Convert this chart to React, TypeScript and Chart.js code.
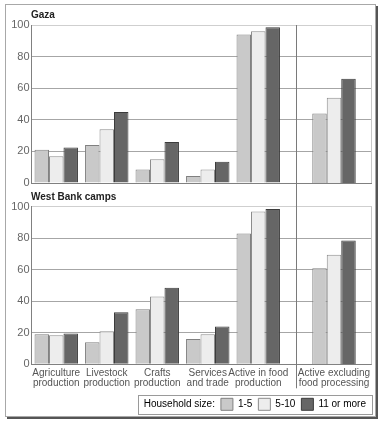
import React, { useEffect, useRef } from 'react';
import { Chart, registerables } from 'chart.js';

Chart.register(...registerables);

const FONT = "'Liberation Sans', Arial, Helvetica, sans-serif";
Chart.defaults.font.family = FONT;

// ---- data ----
const categories: string[][] = [
  ['Agriculture', 'production'],
  ['Livestock', 'production'],
  ['Crafts', 'production'],
  ['Services', 'and trade'],
  ['Active in food', 'production'],
  ['Active excluding', 'food processing'],
];
const seriesNames = ['1-5', '5-10', '11 or more'];
const legendTitle = 'Household size:';
const yTicks = [0, 20, 40, 60, 80, 100];
const panelTitles = ['Gaza', 'West Bank camps'];

const gaza1to5 = [21, 24, 8.5, 4.5, 94, 44];
const gaza5to10 = [17, 34, 15, 8.5, 96, 54];
const gaza11plus = [22.5, 45, 26, 13.5, 98.5, 66];

const westBank1to5 = [19, 14, 35, 16, 83, 61];
const westBank5to10 = [18.5, 21, 43, 19, 97, 69.5];
const westBank11plus = [19.5, 33, 48.5, 24, 98.5, 78.5];

// number of categories in the main section (the rest sit right of the divider)
const SPLIT = 5;

// ---- layout / styles ----
const W = 384;
const W_MAIN = 252.5;
const W_GAP = 12.5;
const W_SIDE = 76;
const FILLS = ['#c9c9c9', '#ededed', '#666666'];
const EDGES = ['#808080', '#8c8c8c', '#3c3c3c'];
const LEGEND_BOX = 12;
const LEGEND_FONT = 10;

const framePlugin = {
  id: 'frame',
  afterDraw(chart: any, _args: any, opts: any) {
    const { ctx, chartArea } = chart;
    const xr = chart.scales.xr;
    ctx.save();
    ctx.lineWidth = 1;
    // right edge of plot
    ctx.strokeStyle = '#c8c8c8';
    const rx = Math.floor(chartArea.right) - 0.5;
    ctx.beginPath();
    ctx.moveTo(rx, chartArea.top);
    ctx.lineTo(rx, chartArea.bottom);
    ctx.stroke();
    // section divider
    const sx = Math.round(xr.left) + 0.5;
    const y0 = opts.fromTop ? 0 : chartArea.top;
    const y1 = opts.toLabels ? xr.bottom - 4 : chart.height;
    ctx.strokeStyle = '#7a7a7a';
    ctx.beginPath();
    ctx.moveTo(sx, y0);
    ctx.lineTo(sx, y1);
    ctx.stroke();
    // legend frame
    const legend = chart.legend;
    if (opts.legendFrame && legend && legend.legendHitBoxes && legend.legendHitBoxes.length) {
      const hb = legend.legendHitBoxes;
      const first = hb[0];
      const last = hb[hb.length - 1];
      const left = first.left + LEGEND_BOX + LEGEND_FONT / 2 - 6;
      const right = last.left + last.width + 6;
      const top = first.top - 3.5;
      const bottom = first.top + first.height + 3.5;
      ctx.strokeStyle = '#9a9a9a';
      ctx.strokeRect(Math.round(left) + 0.5, Math.round(top) + 0.5, Math.round(right - left), Math.round(bottom - top));
    }
    ctx.restore();
  },
};

function barDatasets(values: number[][], part: 'main' | 'side') {
  return values.map((vals, s) => ({
    label: seriesNames[s],
    data: part === 'main' ? vals.slice(0, SPLIT) : vals.slice(SPLIT),
    backgroundColor: FILLS[s],
    borderColor: EDGES[s],
    borderWidth: 1,
    barPercentage: 1,
    categoryPercentage: part === 'main' ? 0.86 : 0.572,
  }));
}

function mainConfig(title: string, values: number[][], bottom: boolean) {
  const xAxis = (labels: any[], weight: number, showTicks: boolean) => ({
    type: 'category',
    position: 'bottom',
    stack: 'sections',
    stackWeight: weight,
    labels,
    offset: true,
    grid: { display: false, drawTicks: false },
    border: { display: false },
    ticks: {
      display: showTicks,
      autoSkip: false,
      maxRotation: 0,
      minRotation: 0,
      padding: 3.7,
      color: '#555',
      font: { family: FONT, size: 10, lineHeight: 1.0 },
    },
    afterFit: (s: any) => {
      s.paddingLeft = 0;
      s.paddingRight = 0;
      s.height = bottom ? 28 : 0;
    },
  });

  return {
    type: 'bar',
    data: { datasets: barDatasets(values, 'main') },
    plugins: [framePlugin],
    options: {
      animation: false,
      responsive: false,
      maintainAspectRatio: false,
      events: [],
      layout: { padding: { left: 0, right: 12, top: 0, bottom: bottom ? 5.7 : 7 } },
      scales: {
        x: xAxis(categories.slice(0, SPLIT), W_MAIN, bottom),
        xs: xAxis([''], W_GAP, false),
        xr: xAxis(categories.slice(SPLIT), W_SIDE, bottom),
        y: {
          type: 'linear',
          min: 0,
          max: 100,
          afterBuildTicks: (s: any) => {
            s.ticks = yTicks.map((v) => ({ value: v }));
          },
          afterFit: (s: any) => {
            s.width = 31;
            s.paddingTop = 0;
            s.paddingBottom = 0;
          },
          ticks: { color: '#666', padding: 1.5, font: { family: FONT, size: 11 } },
          grid: {
            drawTicks: false,
            lineWidth: 1,
            color: (c: any) =>
              c.tick && c.tick.value === 0 ? '#808080' : c.tick && c.tick.value === 100 ? '#cfcfcf' : '#a6a6a6',
          },
          border: { display: true, color: '#808080', width: 1 },
        },
      },
      plugins: {
        frame: { fromTop: bottom, toLabels: bottom, legendFrame: bottom },
        tooltip: { enabled: false },
        title: {
          display: true,
          fullSize: false,
          text: title,
          align: 'start',
          color: '#222',
          font: { family: FONT, size: 10, weight: 'bold', lineHeight: 1.2 },
          padding: bottom ? { top: 1, bottom: 3.7 } : { top: 9.5, bottom: 3.5 },
        },
        legend: {
          display: bottom,
          position: 'bottom',
          align: 'end',
          onClick: () => {},
          labels: {
            boxWidth: LEGEND_BOX,
            boxHeight: LEGEND_BOX,
            padding: 6,
            color: '#444',
            font: { family: FONT, size: LEGEND_FONT },
            generateLabels: () => [
              {
                text: legendTitle,
                fillStyle: 'rgba(0,0,0,0)',
                strokeStyle: 'rgba(0,0,0,0)',
                lineWidth: 0,
                hidden: false,
                datasetIndex: -1,
              },
              ...seriesNames.map((n, i) => ({
                text: n,
                fillStyle: FILLS[i],
                strokeStyle: EDGES[i],
                lineWidth: 1,
                hidden: false,
                datasetIndex: i,
              })),
            ],
          },
        },
      },
    },
  };
}

function sideConfig(values: number[][], padding: { left: number; right: number; top: number; bottom: number }) {
  return {
    type: 'bar',
    data: { datasets: barDatasets(values, 'side') },
    options: {
      animation: false,
      responsive: false,
      maintainAspectRatio: false,
      events: [],
      layout: { padding },
      scales: {
        x: {
          type: 'category',
          labels: categories.slice(SPLIT),
          offset: true,
          grid: { display: false, drawTicks: false },
          border: { display: false },
          ticks: { display: false },
          afterFit: (s: any) => {
            s.height = 0;
            s.paddingLeft = 0;
            s.paddingRight = 0;
          },
        },
        y: { type: 'linear', display: false, min: 0, max: 100 },
      },
      plugins: {
        legend: { display: false },
        title: { display: false },
        tooltip: { enabled: false },
      },
    },
  };
}

function Panel({ title, values, bottom, top, height }: { title: string; values: number[][]; bottom: boolean; top: number; height: number }) {
  const mainRef = useRef<HTMLCanvasElement>(null);
  const sideRef = useRef<HTMLCanvasElement>(null);
  useEffect(() => {
    const main: any = new Chart(mainRef.current as HTMLCanvasElement, mainConfig(title, values, bottom) as any);
    const ca = main.chartArea;
    const xr = main.scales.xr;
    const side = new Chart(
      sideRef.current as HTMLCanvasElement,
      sideConfig(values, { left: xr.left, right: W - xr.right, top: ca.top, bottom: height - ca.bottom }) as any
    );
    return () => {
      side.destroy();
      main.destroy();
    };
  }, []);
  const style: any = { position: 'absolute', left: 0, top, width: W, height };
  return (
    <>
      <canvas ref={mainRef} width={W} height={height} style={style} />
      <canvas ref={sideRef} width={W} height={height} style={style} />
    </>
  );
}

export default function App() {
  return (
    <div style={{ position: 'absolute', left: 0, top: 0, width: W, height: 426, background: '#fff' }}>
      <div
        style={{
          position: 'absolute',
          left: 5,
          top: 4,
          width: 371,
          height: 413,
          boxSizing: 'border-box',
          border: '1px solid #a8a8a8',
          boxShadow: '2px 2px 0 #555',
        }}
      />
      <Panel title={panelTitles[0]} values={[gaza1to5, gaza5to10, gaza11plus]} bottom={false} top={0} height={190} />
      <Panel title={panelTitles[1]} values={[westBank1to5, westBank5to10, westBank11plus]} bottom={true} top={190} height={236} />
    </div>
  );
}
